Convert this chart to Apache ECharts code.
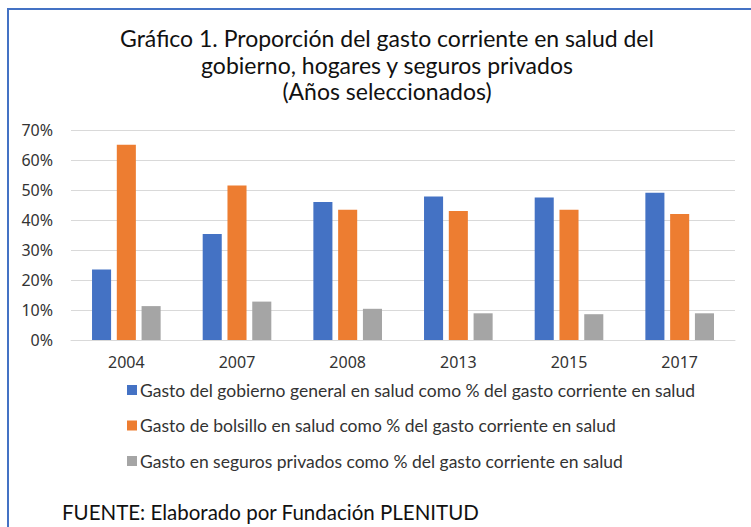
<!DOCTYPE html>
<html>
<head>
<meta charset="utf-8">
<script src="https://cdn.jsdelivr.net/npm/echarts@6/dist/echarts.min.js"></script>
<style>
  html, body { margin: 0; padding: 0; background: #fff; }
  #chart { width: 751px; height: 527px; }
</style>
</head>
<body>
<div id="chart"></div>
<script>
const years = ['2004', '2007', '2008', '2013', '2015', '2017'];
const gobierno = [23.5, 35.3, 46.0, 47.8, 47.5, 49.1];
const bolsillo = [65.1, 51.5, 43.4, 43.0, 43.4, 42.0];
const seguros = [11.3, 12.8, 10.4, 8.9, 8.6, 8.9];
const yTicks = [0, 10, 20, 30, 40, 50, 60, 70];

const seriesNames = [
  'Gasto del gobierno general en salud como % del gasto corriente en salud',
  'Gasto de bolsillo en salud como % del gasto corriente en salud',
  'Gasto en seguros privados como % del gasto corriente en salud'
];
const colors = ['#4472C4', '#ED7D31', '#A5A5A5'];

const chart = echarts.init(document.getElementById('chart'), null, { renderer: 'svg' });

const option = {
  animation: false,
  color: colors,
  title: {
    text: 'Gráfico 1. Proporción del gasto corriente en salud del\ngobierno, hogares y seguros privados\n(Años seleccionados)',
    left: 382,
    top: 20,
    textAlign: 'center',
    textStyle: {
      fontFamily: 'Lato',
      fontSize: 23,
      fontWeight: 'normal',
      color: '#111',
      lineHeight: 26.5
    }
  },
  legend: {
    orient: 'vertical',
    left: 122,
    top: 376,
    itemWidth: 10,
    itemHeight: 10,
    itemGap: 17.5,
    icon: 'rect',
    textStyle: {
      fontFamily: 'Lato',
      fontSize: 17.5,
      lineHeight: 18,
      color: '#333',
      padding: [0, 0, 0, -2]
    },
    data: seriesNames
  },
  grid: {
    left: 71,
    right: 16,
    top: 130,
    bottom: 187
  },
  xAxis: {
    type: 'category',
    data: years,
    axisTick: { show: false },
    axisLine: { lineStyle: { color: '#d9d9d9', width: 1 } },
    axisLabel: {
      margin: 14,
      fontFamily: 'Noto Sans',
      fontSize: 16,
      color: '#333'
    }
  },
  yAxis: {
    type: 'value',
    min: 0,
    max: 70,
    interval: 10,
    axisLine: { show: false },
    axisTick: { show: false },
    splitLine: { lineStyle: { color: '#d9d9d9', width: 1 } },
    axisLabel: {
      margin: 18,
      fontFamily: 'Noto Sans',
      fontSize: 16,
      color: '#333',
      formatter: v => yTicks.includes(v) ? v + '%' : ''
    }
  },
  series: [
    { name: seriesNames[0], type: 'bar', data: gobierno, barGap: '30%', barCategoryGap: '38%' },
    { name: seriesNames[1], type: 'bar', data: bolsillo },
    { name: seriesNames[2], type: 'bar', data: seguros }
  ],
  graphic: [
    { type: 'rect', shape: { x: 7, y: 8, width: 744, height: 2 }, style: { fill: '#4472C4' } },
    { type: 'rect', shape: { x: 7, y: 8, width: 2, height: 519 }, style: { fill: '#4472C4' } },
    {
      type: 'text',
      left: 62,
      top: 501,
      style: {
        text: 'FUENTE: Elaborado por Fundación PLENITUD',
        font: '20.5px Lato',
        fill: '#111'
      }
    }
  ]
};

chart.setOption(option);
</script>
</body>
</html>
